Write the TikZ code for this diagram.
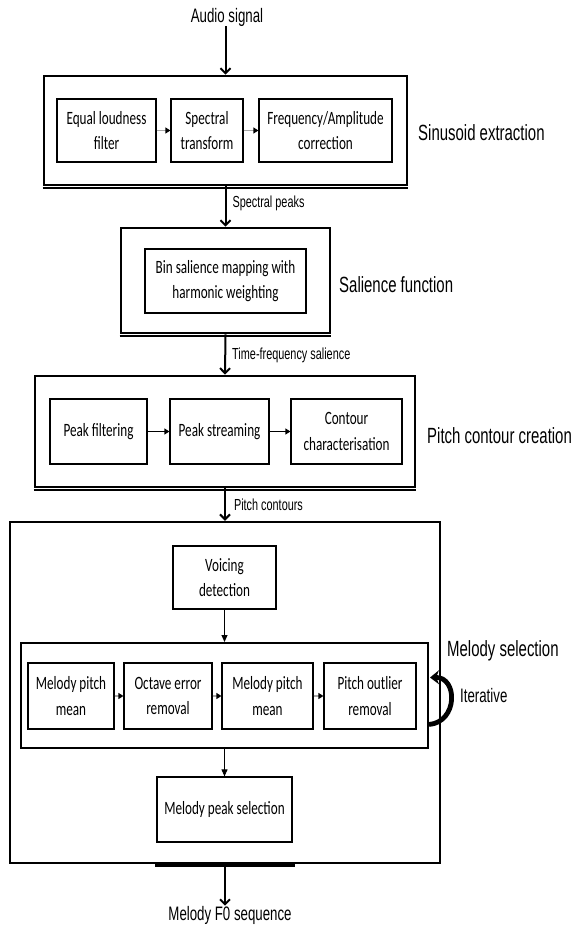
\documentclass[tikz,border=0pt]{standalone}
\usepackage{fontspec}
\setmainfont{Liberation Sans}
\newfontfamily\narrowfont[FakeStretch=0.68]{Liberation Sans}
\newfontfamily\boxfont[FakeStretch=0.7]{Carlito}
\usetikzlibrary{arrows.meta}
\begin{document}
\begin{tikzpicture}[x=1pt,y=-1pt,
  outer/.style={draw,line width=2.8pt,inner sep=0pt},
  inbox/.style={draw,line width=1.2pt,inner sep=0pt,align=center,font=\boxfont\fontsize{18.8}{25.5}\selectfont},
  stage/.style={anchor=west,inner sep=0pt,font=\narrowfont\fontsize{22}{26}\selectfont},
  small/.style={anchor=west,inner sep=0pt,font=\narrowfont\fontsize{16}{19}\selectfont},
  io/.style={inner sep=0pt,font=\narrowfont\fontsize{19.5}{23}\selectfont},
  flow/.style={line width=2pt,-{Straight Barb[length=5pt,width=10pt,line width=2pt]}},
  link/.style={draw=gray!70,line width=1.6pt,-{Triangle[length=5pt,width=6pt,color=black]}},
  thin/.style={line width=0.9pt,-{Triangle[length=7pt,width=6pt]}}
]
\useasboundingbox (0,0) rectangle (577,928);

% Input
\node[io] (audio) at (227,17) {Audio signal};

% Sinusoid extraction
\node[outer,minimum width=363pt,minimum height=109pt] (B1) at (225.5,130.5) {};
\node[inbox,minimum width=99pt,minimum height=63pt] (e1) at (106.5,130.5) {Equal loudness\\filter};
\node[inbox,minimum width=72pt,minimum height=63pt] (e2) at (207,130.5) {Spectral\\transform};
\node[inbox,minimum width=133pt,minimum height=63pt] (e3) at (325.5,130.5) {Frequency/Amplitude\\correction};
\node[stage] (l1) at (418,133) {Sinusoid extraction};
\draw[link] (e1) -- (e2);
\draw[link] (e2) -- (e3);

% Salience function
\node[outer,minimum width=209pt,minimum height=105pt] (B2) at (225.5,280.5) {};
\node[inbox,minimum width=161pt,minimum height=64pt] (s1) at (225.5,281) {Bin salience mapping with\\harmonic weighting};
\node[stage] (l2) at (339,285) {Salience function};

% Pitch contour creation
\node[outer,minimum width=380pt,minimum height=111pt] (B3) at (225,431.5) {};
\node[inbox,minimum width=97pt,minimum height=65pt] (p1) at (98.5,431.5) {Peak filtering};
\node[inbox,minimum width=99pt,minimum height=65pt] (p2) at (219.5,431.5) {Peak streaming};
\node[inbox,minimum width=111pt,minimum height=65pt] (p3) at (346.5,431.5) {Contour\\characterisation};
\node[stage] (l3) at (427,436) {Pitch contour creation};
\draw[link,draw=black] (p1) -- (p2);
\draw[link,draw=black] (p2) -- (p3);

% Melody selection
\node[draw,line width=2.4pt,inner sep=0pt,minimum width=430pt,minimum height=341pt] (B4) at (225,692.5) {};
\node[inbox,minimum width=103pt,minimum height=63pt] (v) at (224.5,577.5) {Voicing\\detection};
\node[draw,line width=2pt,inner sep=0pt,minimum width=407pt,minimum height=105pt] (C) at (224.5,695.5) {};
\node[inbox,minimum width=86pt,minimum height=66pt] (m1) at (71,696) {Melody pitch\\mean};
\node[inbox,minimum width=88pt,minimum height=66pt] (m2) at (168,696) {Octave error\\removal};
\node[inbox,minimum width=91pt,minimum height=66pt] (m3) at (267.5,696) {Melody pitch\\mean};
\node[inbox,minimum width=92pt,minimum height=66pt] (m4) at (370,696) {Pitch outlier\\removal};
\node[inbox,minimum width=135pt,minimum height=65pt] (mp) at (224.5,809.5) {Melody peak selection};
\node[stage] (l4) at (447,651) {Melody selection};
\node[io,anchor=west] (it) at (460,696) {Iterative};
\draw[link] (m1) -- (m2);
\draw[link] (m2) -- (m3);
\draw[link] (m3) -- (m4);
\draw[thin] (v) -- (v |- C.north);
\draw[thin] (C.south -| mp.north) -- (mp);
\draw[line width=4.8pt,-{Stealth[length=9pt,width=14pt]}] ([yshift=-29pt]C.east) .. controls (458,722) and (458,677) .. ([yshift=18pt,xshift=1pt]C.east);

% Output
\node[io] (out) at (230,915) {Melody F0 sequence};

% bottom shadows
\draw[line width=1.6pt] ([yshift=-1.8pt]B1.south west) -- ([yshift=-1.8pt]B1.south east);
\draw[line width=1.6pt] ([yshift=-1.8pt]B2.south west) -- ([yshift=-1.8pt]B2.south east);
\draw[line width=1.6pt] ([yshift=-1.8pt]B3.south west) -- ([yshift=-1.8pt]B3.south east);
\draw[line width=5pt] ([xshift=-70pt,yshift=-0.5pt]B4.south) -- ([xshift=70pt,yshift=-0.5pt]B4.south);

% main flow
\draw[flow] (audio.south -| B1.north) -- (B1.north);
\draw[flow] (B1.south) -- node[small,pos=0.42,xshift=6pt] (lab1) {Spectral peaks} (B2.north);
\draw[flow] (B2.south) -- node[small,pos=0.52,xshift=6pt] (lab2) {Time-frequency salience} (B3.north);
\draw[flow] (B3.south) -- node[small,pos=0.5,xshift=8pt] (lab3) {Pitch contours} (B4.north);
\draw[flow] ([yshift=-3pt]B4.south) -- (B4.south |- out.north);
\end{tikzpicture}
\end{document}
